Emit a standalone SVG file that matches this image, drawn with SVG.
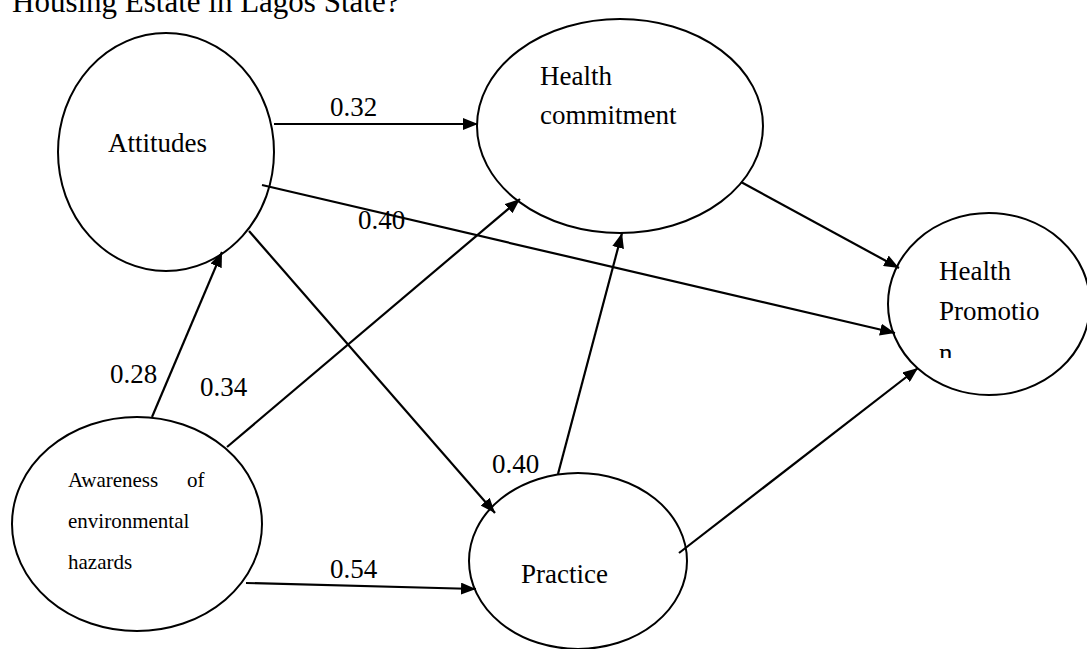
<svg xmlns="http://www.w3.org/2000/svg" width="1087" height="649" viewBox="0 0 1087 649">
<style>
.node{fill:#fff;stroke:#000;stroke-width:2}
.t{font-family:"Liberation Serif","Times New Roman",serif;font-size:27px;fill:#000}
.s{font-family:"Liberation Serif","Times New Roman",serif;font-size:21px;fill:#000}
.e{stroke:#000;stroke-width:2.2;fill:none;marker-end:url(#ah)}
</style>
<defs>
<marker id="ah" markerUnits="userSpaceOnUse" markerWidth="16" markerHeight="12" refX="15" refY="6" orient="auto">
<path d="M0,0 L15,6 L0,12 z" fill="#000"/>
</marker>
<clipPath id="cl"><rect x="880" y="330" width="200" height="28"/></clipPath>
</defs>
<rect width="1087" height="649" fill="#fff"/>
<text class="t" x="12" y="12" style="font-size:31px">Housing Estate in Lagos State?</text>
<g id="attitudes">
<ellipse class="node" cx="166" cy="152" rx="108" ry="119"/>
<text class="t" x="108" y="152">Attitudes</text>
</g>
<g id="health-commitment">
<ellipse class="node" cx="620" cy="126" rx="143" ry="107"/>
<text class="t" x="540" y="85">Health</text>
<text class="t" x="540" y="124">commitment</text>
</g>
<g id="health-promotion">
<ellipse class="node" cx="989" cy="304" rx="101" ry="91"/>
<text class="t" x="939" y="280">Health</text>
<text class="t" x="939" y="320">Promotio</text>
<text class="t" x="939" y="362" clip-path="url(#cl)">n</text>
</g>
<g id="awareness">
<ellipse class="node" cx="137" cy="524" rx="125" ry="107"/>
<text class="s" x="68" y="487">Awareness</text>
<text class="s" x="187" y="487">of</text>
<text class="s" x="68" y="528">environmental</text>
<text class="s" x="68" y="569">hazards</text>
</g>
<g id="practice">
<ellipse class="node" cx="578" cy="561" rx="109" ry="88"/>
<text class="t" x="521" y="583">Practice</text>
</g>
<g id="connectors">
<line class="e" x1="274" y1="124" x2="478" y2="124"/>
<line class="e" x1="262" y1="185" x2="895" y2="333"/>
<line class="e" x1="249" y1="231" x2="495" y2="513"/>
<line class="e" x1="152" y1="417" x2="222" y2="252"/>
<line class="e" x1="227" y1="447" x2="520" y2="199"/>
<line class="e" x1="246" y1="583" x2="476" y2="589"/>
<line class="e" x1="558" y1="474" x2="622" y2="233"/>
<line class="e" x1="741" y1="182" x2="899" y2="268"/>
<line class="e" x1="679" y1="553" x2="918" y2="368"/>
<text class="t" x="330" y="116">0.32</text>
<text class="t" x="358" y="229">0.40</text>
<text class="t" x="110" y="383">0.28</text>
<text class="t" x="200" y="396">0.34</text>
<text class="t" x="492" y="473">0.40</text>
<text class="t" x="330" y="578">0.54</text>
</g>
</svg>
